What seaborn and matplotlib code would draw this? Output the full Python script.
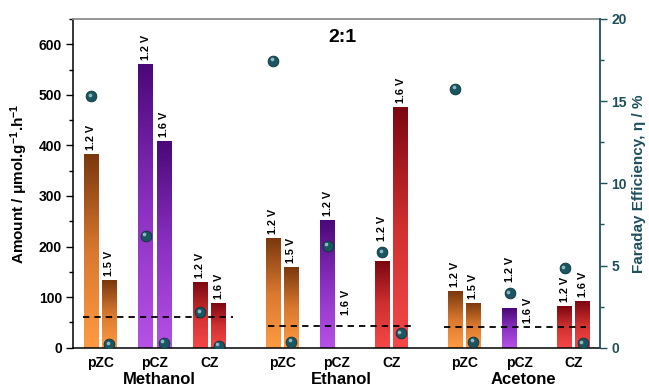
import numpy as np
import pandas as pd
import matplotlib
matplotlib.use("Agg")
import matplotlib.pyplot as plt
import matplotlib.transforms as mtransforms
from matplotlib.colors import LinearSegmentedColormap
from matplotlib.ticker import MultipleLocator
import seaborn as sns

# ---------------------------------------------------------------- data
solvents = ["Methanol", "Ethanol", "Acetone"]
catalysts = ["pZC", "pCZ", "CZ"]
voltage_labels = {"pZC": ["1.2 V", "1.5 V"],
                  "pCZ": ["1.2 V", "1.6 V"],
                  "CZ": ["1.2 V", "1.6 V"]}

# production rate (µmol g-1 h-1), order: pZC lo/hi, pCZ lo/hi, CZ lo/hi
methanol_amount = [383, 133, 561, 409, 129, 88]
ethanol_amount = [216, 159, 253, 0, 172, 475]
acetone_amount = [112, 89, 78, 0, 82, 92]

# Faraday efficiency (%), same order; NaN = not measured
methanol_fe = [15.3, 0.2, 6.8, 0.3, 2.15, 0.12]
ethanol_fe = [17.45, 0.37, 6.2, np.nan, 5.8, 0.88]
acetone_fe = [15.75, 0.37, 3.3, np.nan, 4.83, 0.27]

# reference (no-bias) production level per solvent
baseline_amount = [60, 43, 40]

amounts = [methanol_amount, ethanol_amount, acetone_amount]
effs = [methanol_fe, ethanol_fe, acetone_fe]

# ---------------------------------------------------------------- layout
GROUP_STEP = 10      # spacing between solvent blocks
CAT_STEP = 3         # spacing between catalysts within a block
BAR_W = 0.82
YMAX_L, YMAX_R = 650, 20
baseline_span = [(-0.95, 7.3), (-0.8, 7.2), (-1.1, 6.7)]
empty_label_base = {"Ethanol": 64, "Acetone": 49}

rows = []
for s_i, solv in enumerate(solvents):
    for c_i, cat in enumerate(catalysts):
        for v_i in range(2):
            k = c_i * 2 + v_i
            rows.append(dict(solvent=solv, catalyst=cat,
                             voltage=voltage_labels[cat][v_i],
                             pos=s_i * GROUP_STEP + c_i * CAT_STEP + (v_i - 0.5),
                             amount=amounts[s_i][k], fe=effs[s_i][k]))
df = pd.DataFrame(rows)

# ---------------------------------------------------------------- style
sns.set_theme(style="ticks")
plt.rcParams["font.family"] = ["Liberation Sans", "DejaVu Sans"]
plt.rcParams["font.weight"] = "bold"
plt.rcParams["mathtext.default"] = "regular"
for key in ["text.color", "axes.labelcolor", "xtick.color", "ytick.color"]:
    plt.rcParams[key] = "black"

TEAL = "#1E4F5B"
grad = {
    "pZC": LinearSegmentedColormap.from_list("pzc", ["#FF9B42", "#D9782F", "#7A380D"]),
    "pCZ": LinearSegmentedColormap.from_list("pcz", ["#B652E6", "#8A30C0", "#4A0878"]),
    "CZ": LinearSegmentedColormap.from_list("cz", ["#F64848", "#D03030", "#7C0710"]),
}

fig = plt.figure(figsize=(6.49, 3.89), dpi=100)
ax = fig.add_axes([73 / 649, 1 - 347.7 / 389, (600 - 73) / 649, (347.7 - 19) / 389])

sns.barplot(data=df, x="pos", y="amount", native_scale=True, width=BAR_W,
            errorbar=None, color="white", ax=ax, zorder=2)

xlim = (-1.5, 27.45)

# gradient fill, dark at the top of each bar
ramp = np.linspace(0, 1, 256).reshape(-1, 1)
for patch in list(ax.patches):
    x0, w, h = patch.get_x(), patch.get_width(), patch.get_height()
    xc = x0 + w / 2
    row = df.iloc[(df["pos"] - xc).abs().argmin()]
    patch.set_facecolor("none")
    patch.set_edgecolor("none")
    if h <= 0:
        continue
    im = ax.imshow(ramp, extent=[x0, x0 + w, 0, h], origin="lower",
                   aspect="auto", cmap=grad[row["catalyst"]], zorder=2,
                   interpolation="bilinear")
    im.set_clip_path(patch)

ax.set_xlim(*xlim)
ax.set_ylim(0, YMAX_L)

# baselines
for s_i, base in enumerate(baseline_amount):
    a, b = baseline_span[s_i]
    ax.hlines(base, s_i * GROUP_STEP + a, s_i * GROUP_STEP + b, colors="black",
              linestyles=(0, (3.5, 2.8)), linewidth=1.3, zorder=4)

# voltage labels above bars
scale = YMAX_L / YMAX_R
for _, r in df.iterrows():
    if r["amount"] > 0:
        base = r["amount"]
        dot = r["fe"] * scale
        if not np.isnan(dot) and base - 5 < dot < base + 40:
            base = dot + 14
        off = 3
    else:
        base = empty_label_base[r["solvent"]]
        off = 0
    ax.annotate(r["voltage"], (r["pos"], base), xytext=(0, off),
                textcoords="offset points", rotation=90, ha="center",
                va="bottom", fontsize=7.8, fontweight="bold", zorder=6)

# axes cosmetics
ax.yaxis.set_major_locator(MultipleLocator(100))
ax.yaxis.set_minor_locator(MultipleLocator(50))
ax.tick_params(axis="y", which="major", direction="out", length=5, width=1,
               labelsize=10, color="black", labelcolor="black", pad=3)
ax.tick_params(axis="y", which="minor", direction="out", length=3, width=1,
               color="black")
centers = [s_i * GROUP_STEP + c_i * CAT_STEP for s_i in range(3) for c_i in range(3)]
ax.set_xticks(centers)
ax.set_xticklabels(catalysts * 3, fontsize=10, fontweight="bold")
ax.tick_params(axis="x", length=0, pad=6, labelcolor="black")
ax.set_xlabel("")
ax.set_ylabel("Amount / μmol.g$^{-1}$.h$^{-1}$", fontsize=11, fontweight="bold",
              labelpad=6, color="black")
for sp in ["left", "bottom"]:
    ax.spines[sp].set_color("black")
    ax.spines[sp].set_linewidth(1.1)
ax.spines["top"].set_color("#8C8C8C")
ax.spines["top"].set_linewidth(1.3)
ax.spines["top"].set_visible(True)
ax.spines["right"].set_visible(False)
ax.set_facecolor("white")

trans = mtransforms.blended_transform_factory(ax.transData, ax.transAxes)
for s_i, solv in enumerate(solvents):
    ax.text(s_i * GROUP_STEP + 3.25, -0.098, solv, transform=trans, ha="center",
            va="center", fontsize=12, fontweight="bold", color="black")

ax.text(13.3, 0.945, "2:1", transform=trans, ha="center", va="center",
        fontsize=14, fontweight="bold", color="black")

# Faraday efficiency on the right axis
ax2 = ax.twinx()
sns.scatterplot(data=df, x="pos", y="fe", ax=ax2, s=60, color="#1B5561",
                edgecolor="#0C333A", linewidth=0.6, zorder=5, legend=False)
hl = mtransforms.offset_copy(ax2.transData, fig=fig, x=-1.1, y=1.1, units="points")
ok = df["fe"].notna()
ax2.scatter(df.loc[ok, "pos"], df.loc[ok, "fe"], s=7, color="#8DB9C0",
            linewidths=0, transform=hl, zorder=6)
ax2.set_xlim(*xlim)
ax2.set_ylim(0, YMAX_R)
ax2.yaxis.set_major_locator(MultipleLocator(5))
ax2.yaxis.set_minor_locator(MultipleLocator(2.5))
ax2.tick_params(axis="y", which="major", direction="out", length=5, width=1,
                labelsize=10, color=TEAL, labelcolor=TEAL, pad=3)
ax2.tick_params(axis="y", which="minor", direction="out", length=3, width=1,
                color=TEAL)
ax2.set_ylabel("Faraday Efficiency, η / %", fontsize=11, fontweight="bold",
               color=TEAL, labelpad=4)
ax2.set_xlabel("")
for sp in ["left", "top", "bottom"]:
    ax2.spines[sp].set_visible(False)
ax2.spines["right"].set_color(TEAL)
ax2.spines["right"].set_linewidth(1.3)
for lab in ax.get_yticklabels() + ax2.get_yticklabels():
    lab.set_fontweight("bold")

fig.savefig("out.png", dpi=100, facecolor="white")
